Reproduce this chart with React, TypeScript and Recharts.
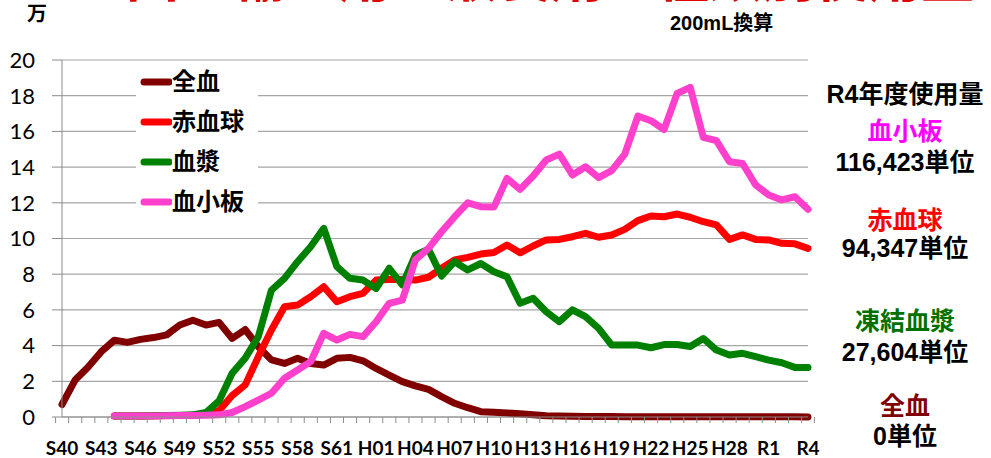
import React from 'react';
import { LineChart, Line, XAxis, YAxis, CartesianGrid, Legend } from 'recharts';

const YEARS = [
  'S40','S41','S42','S43','S44','S45','S46','S47','S48','S49','S50','S51','S52','S53','S54','S55','S56','S57','S58','S59','S60','S61','S62','S63',
  'H01','H02','H03','H04','H05','H06','H07','H08','H09','H10','H11','H12','H13','H14','H15','H16','H17','H18','H19','H20','H21','H22','H23','H24','H25','H26','H27','H28','H29','H30',
  'R1','R2','R3','R4',
];

const WHOLE_BLOOD = [
  0.7, 2.07, 2.8, 3.66, 4.3, 4.18, 4.35, 4.45, 4.6, 5.15, 5.42, 5.15, 5.3, 4.4, 4.9, 3.94, 3.2, 3.0, 3.29, 3.0,
  2.91, 3.29, 3.34, 3.15, 2.72, 2.35, 1.98, 1.74, 1.55, 1.14, 0.77, 0.52, 0.3, 0.26, 0.22, 0.18, 0.12, 0.07, 0.05, 0.04,
  0.03, 0.03, 0.03, 0.02, 0.02, 0.02, 0.02, 0.01, 0.01, 0.01, 0.01, 0.01, 0.01, 0.01, 0.01, 0.01, 0.01, 0,
];
const RED_CELLS = [
  null, null, null, null, 0.05, 0.05, 0.06, 0.07, 0.08, 0.09, 0.1, 0.15, 0.35, 1.2, 1.8, 3.38, 4.87, 6.18, 6.27, 6.74,
  7.3, 6.46, 6.74, 6.93, 7.67, 7.7, 7.7, 7.67, 7.83, 8.33, 8.8, 8.94, 9.13, 9.22, 9.64, 9.2, 9.58, 9.92, 9.95, 10.1,
  10.29, 10.07, 10.2, 10.51, 11.0, 11.26, 11.22, 11.37, 11.19, 10.94, 10.76, 9.95, 10.2, 9.95, 9.92, 9.73, 9.7, 9.45,
];
const PLASMA = [
  null, null, null, null, 0.05, 0.05, 0.06, 0.07, 0.08, 0.1, 0.12, 0.25, 0.9, 2.45, 3.3, 4.5, 7.1, 7.77, 8.7, 9.54,
  10.57, 8.42, 7.77, 7.67, 7.2, 8.33, 7.4, 9.07, 9.4, 7.9, 8.7, 8.24, 8.6, 8.14, 7.86, 6.37, 6.65, 5.9, 5.34, 6.0,
  5.62, 4.97, 4.03, 4.03, 4.03, 3.88, 4.06, 4.06, 3.95, 4.4, 3.75, 3.47, 3.57, 3.38, 3.19, 3.04, 2.78, 2.78,
];
const PLATELETS = [
  null, null, null, null, 0.05, 0.05, 0.06, 0.06, 0.07, 0.08, 0.09, 0.1, 0.12, 0.25, 0.58, 0.95, 1.33, 2.17, 2.63, 3.1,
  4.69, 4.31, 4.63, 4.5, 5.34, 6.37, 6.55, 8.8, 9.45, 10.38, 11.22, 12.0, 11.78, 11.76, 13.37, 12.75, 13.5, 14.4, 14.73, 13.56,
  14.02, 13.41, 13.8, 14.73, 16.86, 16.6, 16.1, 18.13, 18.47, 15.67, 15.48, 14.3, 14.2, 13.0, 12.44, 12.16, 12.34, 11.64,
];

const Y_TICKS = [0, 2, 4, 6, 8, 10, 12, 14, 16, 18, 20];

const SERIES = [
  { key: 'whole', name: '全血', color: '#800000', values: WHOLE_BLOOD },
  { key: 'red', name: '赤血球', color: '#ff0000', values: RED_CELLS },
  { key: 'plasma', name: '血漿', color: '#008000', values: PLASMA },
  { key: 'plt', name: '血小板', color: '#ff40cc', values: PLATELETS },
];

const R4_LABELS = [
  { name: '血小板', amount: '116,423単位', color: '#ff00ff', y: 131, y2: 162 },
  { name: '赤血球', amount: '94,347単位', color: '#ff0000', y: 220, y2: 248 },
  { name: '凍結血漿', amount: '27,604単位', color: '#007000', y: 321, y2: 352 },
  { name: '全血', amount: '0単位', color: '#800000', y: 406, y2: 436 },
];

const data = YEARS.map((year, i) => {
  const row: any = { year };
  SERIES.forEach((s) => { row[s.key] = s.values[i]; });
  return row;
});

const W = 991;
const H = 458;
const MARGIN = { top: 60, right: 183, bottom: 0, left: 0 };
const Y_AXIS_W = 62;
const X_AXIS_H = 41;
const PLOT_W = W - MARGIN.left - MARGIN.right - Y_AXIS_W;
const BAND = PLOT_W / YEARS.length;
const AXIS_COLOR = '#8c8c8c';
const GRID_COLOR = '#a6a6a6';
const CJK = '"Liberation Sans", "Noto Sans CJK JP", sans-serif';
const LATIN = 'Lato, "Noto Sans", sans-serif';

const XTick = (props: any) => {
  const { x, y, payload, index } = props;
  const i = index ?? payload.index;
  return (
    <g>
      <line x1={x - BAND / 2} x2={x - BAND / 2} y1={y} y2={y + 6} stroke={AXIS_COLOR} strokeWidth={1} />
      {i === YEARS.length - 1 && (
        <line x1={x + BAND / 2} x2={x + BAND / 2} y1={y} y2={y + 6} stroke={AXIS_COLOR} strokeWidth={1} />
      )}
      {i % 3 === 0 && (
        <text x={x} y={y + 30} textAnchor="middle" dominantBaseline="central"
          style={{ fontFamily: LATIN, fontWeight: 700, fontSize: 19, fill: '#000' }}>
          {payload.value}
        </text>
      )}
    </g>
  );
};

const LegendContent = () => (
  <div style={{ background: '#fff', width: 122, height: 160 }}>
    {SERIES.map((s) => (
      <div key={s.key} style={{ display: 'flex', alignItems: 'center', height: 40 }}>
        <svg width={36} height={12} style={{ display: 'block' }}>
          <line x1={8} x2={33} y1={6} y2={6} stroke={s.color} strokeWidth={7} strokeLinecap="round" />
        </svg>
        <span style={{ fontFamily: CJK, fontWeight: 700, fontSize: 24, color: '#000', lineHeight: '40px' }}>{s.name}</span>
      </div>
    ))}
  </div>
);

export default function App() {
  return (
    <div style={{ position: 'absolute', left: 0, top: 0, width: W, height: H, background: '#fff', overflow: 'hidden' }}>
      <LineChart width={W} height={H} data={data} margin={MARGIN}>
        <CartesianGrid vertical={false} stroke={GRID_COLOR} strokeWidth={1.2} />
        <XAxis dataKey="year" interval={0} height={X_AXIS_H} tickSize={0} tickMargin={0} tickLine={false}
          axisLine={{ stroke: AXIS_COLOR }} tick={<XTick />} />
        <YAxis domain={[0, 20]} ticks={Y_TICKS} interval={0} width={Y_AXIS_W} tickSize={10} tickMargin={17}
          axisLine={{ stroke: AXIS_COLOR }} tickLine={{ stroke: AXIS_COLOR }}
          tick={{ fontFamily: LATIN, fontSize: 22, fill: '#000' }} />
        <Legend layout="horizontal" align="center" verticalAlign="middle" content={<LegendContent />}
          wrapperStyle={{ position: 'absolute', left: 136, top: 62, width: 122, height: 160 }} />
        {SERIES.map((s) => (
          <Line key={s.key} dataKey={s.key} name={s.name} type="linear" stroke={s.color} strokeWidth={7}
            dot={false} activeDot={false} strokeLinejoin="round" strokeLinecap="round" isAnimationActive={false} />
        ))}
      </LineChart>
      <svg width={W} height={H} style={{ position: 'absolute', left: 0, top: 0, pointerEvents: 'none' }}>
        <text x={20} y={-3} style={{ fontFamily: CJK, fontWeight: 700, fontSize: 53, fill: '#e00000' }}>わが国の輸血用血液製剤の種類別使用量</text>
        <text x={27} y={14} dominantBaseline="central" style={{ fontFamily: CJK, fontWeight: 700, fontSize: 20, fill: '#000' }}>万</text>
        <text x={670} y={23} dominantBaseline="central" style={{ fontFamily: CJK, fontWeight: 700, fontSize: 20, fill: '#000' }}>200mL換算</text>
        <text x={905} y={94} textAnchor="middle" dominantBaseline="central" style={{ fontFamily: CJK, fontWeight: 700, fontSize: 25, fill: '#000' }}>R4年度使用量</text>
        {R4_LABELS.map((l) => (
          <g key={l.name}>
            <text x={905} y={l.y} textAnchor="middle" dominantBaseline="central" style={{ fontFamily: CJK, fontWeight: 700, fontSize: 25, fill: l.color }}>{l.name}</text>
            <text x={905} y={l.y2} textAnchor="middle" dominantBaseline="central" style={{ fontFamily: CJK, fontWeight: 700, fontSize: 25, fill: '#000' }}>{l.amount}</text>
          </g>
        ))}
      </svg>
    </div>
  );
}
